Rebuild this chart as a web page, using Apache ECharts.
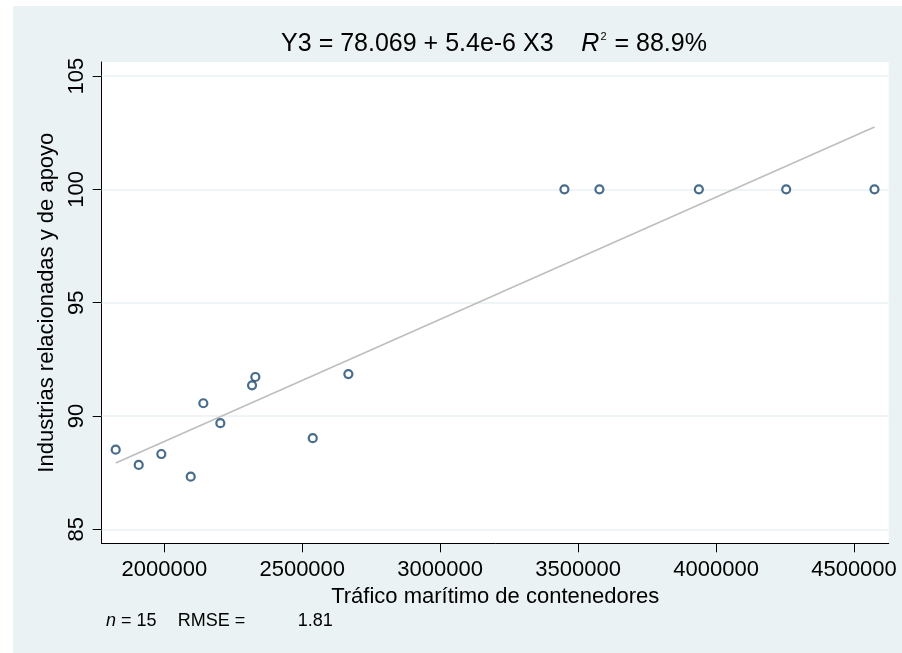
<!DOCTYPE html>
<html>
<head>
<meta charset="utf-8">
<script src="https://cdn.jsdelivr.net/npm/echarts@6/dist/echarts.min.js"></script>
<style>
html,body{margin:0;padding:0;background:#ffffff;}
#chart{position:absolute;left:13px;top:6px;width:889px;height:647px;}
</style>
</head>
<body>
<div id="chart"></div>
<script>
// ---- data ----
const xTicks = [2000000, 2500000, 3000000, 3500000, 4000000, 4500000];
const yTicks = [85, 90, 95, 100, 105];
const trafico = [1823790, 1907180, 1989120, 2095720, 2141410, 2203050, 2317990, 2329950, 2538070, 2667150, 3450320, 3577220, 3937640, 4254170, 4574320];
const industrias = [88.51, 87.84, 88.32, 87.32, 90.56, 89.68, 91.35, 91.72, 89.02, 91.85, 100, 100, 100, 100, 100];
const fitX = [1823790, 4574320];
const fitY = [87.92, 102.75];
const titleEq = 'Y3 = 78.069 + 5.4e-6 X3';
const titleR2 = ' = 88.9%';
const xName = 'Tráfico marítimo de contenedores';
const yName = 'Industrias relacionadas y de apoyo';
const footN = '15';
const footRMSE = '1.81';

// ---- chart ----
const FONT = '"Liberation Sans", Arial, sans-serif';
const chart = echarts.init(document.getElementById('chart'));
const points = trafico.map((x, i) => [x, industrias[i]]);
const fit = fitX.map((x, i) => [x, fitY[i]]);

chart.setOption({
  backgroundColor: '#eaf2f3',
  animation: false,
  textStyle: { fontFamily: FONT },
  grid: {
    left: 88.7, right: 13.3, top: 56, bottom: 109.7,
    show: true, backgroundColor: '#ffffff', borderWidth: 0
  },
  xAxis: {
    type: 'value', min: 1773000, max: 4625800,
    name: xName, nameLocation: 'middle', nameGap: 36,
    nameTextStyle: { fontSize: 22, color: '#000', fontFamily: FONT },
    axisLine: { show: true, onZero: false, lineStyle: { color: '#000', width: 1 } },
    axisTick: { show: true, length: 9, customValues: xTicks, lineStyle: { color: '#000' } },
    axisLabel: { customValues: xTicks, fontSize: 22, color: '#000', margin: 16, fontFamily: FONT,
                 formatter: v => String(v) },
    splitLine: { show: false }
  },
  yAxis: {
    type: 'value', min: 84.38, max: 105.62,
    name: yName, nameLocation: 'middle', nameGap: 37, nameRotate: 90,
    nameTextStyle: { fontSize: 22, color: '#000', fontFamily: FONT },
    axisLine: { show: true, onZero: false, lineStyle: { color: '#000', width: 1 } },
    axisTick: { show: true, length: 9, customValues: yTicks, lineStyle: { color: '#000' } },
    axisLabel: { customValues: yTicks, fontSize: 22, color: '#000', margin: 14, rotate: 90, fontFamily: FONT,
                 formatter: v => String(v) },
    splitLine: { show: false }
  },
  series: [
    {
      type: 'line', data: fit, symbol: 'none', silent: true, z: 3,
      lineStyle: { color: '#bebebe', width: 1.6 },
      markLine: {
        silent: true, symbol: ['none', 'none'], label: { show: false }, z: 1,
        lineStyle: { color: '#eaf2f3', width: 1.5, type: 'solid' },
        data: yTicks.map(v => ({ yAxis: v }))
      }
    },
    {
      type: 'scatter', data: points, symbol: 'circle', symbolSize: 8, z: 4,
      itemStyle: { color: '#ffffff', borderColor: '#1a476f', borderWidth: 2.2 }
    }
  ],
  graphic: [
    {
      type: 'text', x: 481, y: 38,
      style: {
        text: '{a|' + titleEq + '    }{i|R}{s|2}{a|' + titleR2 + '}',
        align: 'center', verticalAlign: 'middle',
        fill: '#000', font: '25px ' + FONT,
        rich: {
          a: { fontSize: 25, fontFamily: FONT, fill: '#000' },
          i: { fontSize: 25, fontFamily: FONT, fontStyle: 'italic', fill: '#000' },
          s: { fontSize: 11, fontFamily: FONT, fill: '#000', verticalAlign: 'bottom', padding: [0, 1, 14, 1] }
        }
      }
    },
    {
      type: 'text', x: 93, y: 615,
      style: {
        text: '{i|n}{a| = ' + footN + '}',
        verticalAlign: 'middle', fill: '#000',
        rich: {
          i: { fontSize: 18, fontFamily: FONT, fontStyle: 'italic', fill: '#000' },
          a: { fontSize: 18, fontFamily: FONT, fill: '#000' }
        }
      }
    },
    {
      type: 'text', x: 164.7, y: 615,
      style: { text: 'RMSE =', verticalAlign: 'middle', fill: '#000', font: '18px ' + FONT }
    },
    {
      type: 'text', x: 284.7, y: 615,
      style: { text: footRMSE, verticalAlign: 'middle', fill: '#000', font: '18px ' + FONT }
    }
  ]
});
</script>
</body>
</html>
